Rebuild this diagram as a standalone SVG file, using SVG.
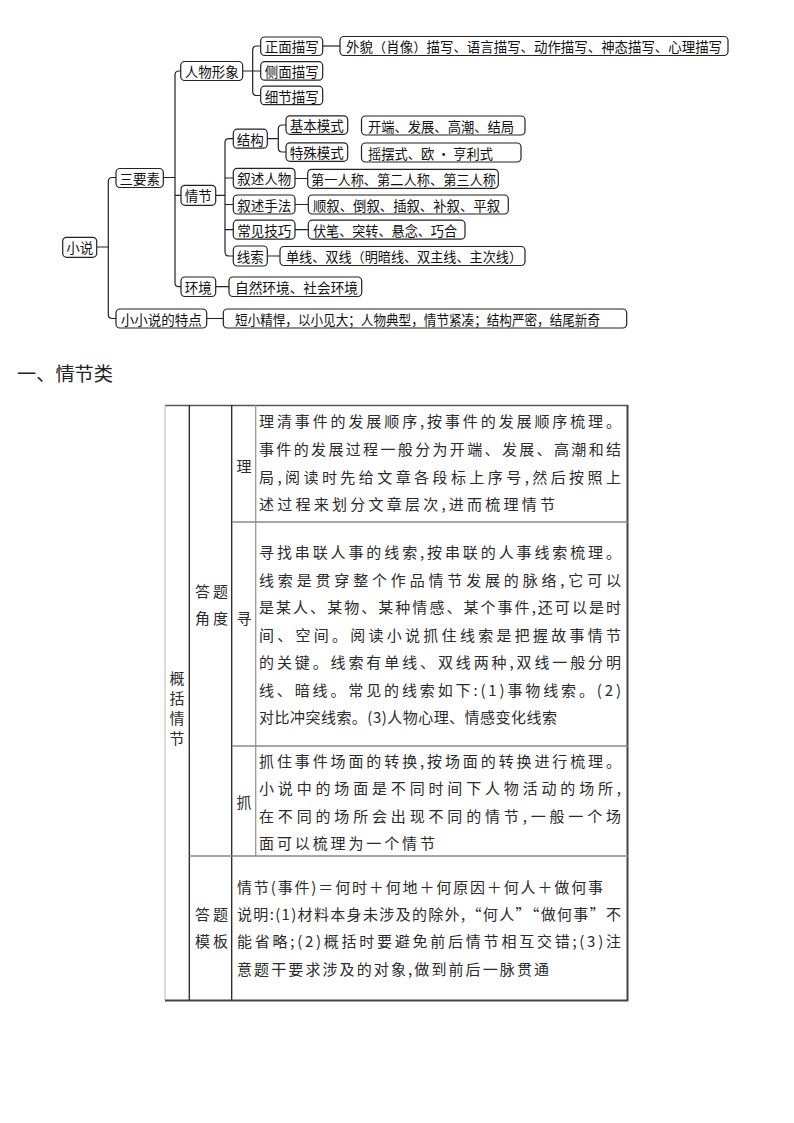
<svg xmlns="http://www.w3.org/2000/svg" width="794" height="1123" viewBox="0 0 794 1123">
<style>
.box{fill:#fff;stroke:#222;stroke-width:1.2}
.mt{font-family:"Noto Sans CJK SC",sans-serif;font-size:13.5px;fill:#111;dominant-baseline:central}
.c{text-anchor:middle}
.ln{fill:none;stroke:#222;stroke-width:1.2}
.tt{font-family:"Noto Sans CJK SC",sans-serif;font-size:15px;fill:#2b2b2b;dominant-baseline:central}
.h{font-family:"Noto Sans CJK SC",sans-serif;font-size:19px;fill:#222;dominant-baseline:central}
</style>
<rect width="794" height="1123" fill="#fff"/>
<g id="connectors">
<path class="ln" d="M96.7,247 H108.3 M116,177.5 H112.3 Q108.3,177.5 108.3,181.5 V314.5 Q108.3,318.5 112.3,318.5 H116"/>
<path class="ln" d="M163.3,177.5 H175 M180.7,71 H179 Q175,71 175,75 V282.7 Q175,286.7 179,286.7 H181 M175,195.3 H181"/>
<path class="ln" d="M242.7,71 H260.7 M260.7,46 H256.7 Q252.7,46 252.7,50 V91.5 Q252.7,95.5 256.7,95.5 H260.7"/>
<path class="ln" d="M322.7,46 H340"/>
<path class="ln" d="M215.7,195.3 H225 M233.3,138.7 H229 Q225,138.7 225,142.7 V252 Q225,256 229,256 H233.3 M225,178 H233.3 M225,204.5 H233.3 M225,229.7 H233.3"/>
<path class="ln" d="M267.3,138.7 H278.3 M286,125 H282.3 Q278.3,125 278.3,129 V148 Q278.3,152 282.3,152 H286"/>
<path class="ln" d="M295,178.5 H307.7 M295,204.5 H308.3 M295,229.7 H308.3 M267.3,256 H280 M215.7,286.7 H229 M206.7,318.5 H223.3"/>
</g>
<g id="n-xiaoshuo"><rect class="box" x="62.7" y="237.3" width="34" height="20" rx="4"/><text class="mt c" x="79.7" y="247">小说</text></g>
<g id="n-sanyaosu"><rect class="box" x="116" y="168.5" width="47.3" height="19" rx="4"/><text class="mt c" x="139.7" y="177.5">三要素</text></g>
<g id="n-xxstd"><rect class="box" x="116" y="309" width="90.7" height="19" rx="4"/><text class="mt c" x="161.3" y="318.5">小小说的特点</text></g>
<g id="n-renwu"><rect class="box" x="180.7" y="61.5" width="62" height="19" rx="4"/><text class="mt c" x="211.7" y="71">人物形象</text></g>
<g id="n-qingjie"><rect class="box" x="181" y="185.3" width="34.7" height="20" rx="4"/><text class="mt c" x="198.3" y="195.3">情节</text></g>
<g id="n-huanjing"><rect class="box" x="181" y="277" width="34.7" height="19.5" rx="4"/><text class="mt c" x="198.3" y="286.7">环境</text></g>
<g id="n-zhengmian"><rect class="box" x="260.7" y="37" width="62" height="18.5" rx="4"/><text class="mt c" x="291.7" y="46">正面描写</text></g>
<g id="n-cemian"><rect class="box" x="260.7" y="61.7" width="62" height="18.5" rx="4"/><text class="mt c" x="291.7" y="71">侧面描写</text></g>
<g id="n-xijie"><rect class="box" x="260.7" y="86.2" width="62" height="18.5" rx="4"/><text class="mt c" x="291.7" y="95.5">细节描写</text></g>
<g id="n-waimao"><rect class="box" x="340" y="36.5" width="388" height="19" rx="4"/><text class="mt" x="346" y="46" textLength="376" lengthAdjust="spacingAndGlyphs">外貌（肖像）描写、语言描写、动作描写、神态描写、心理描写</text></g>
<g id="n-jiegou"><rect class="box" x="233.3" y="129.2" width="34" height="19" rx="4"/><text class="mt c" x="250.3" y="138.7">结构</text></g>
<g id="n-jiben"><rect class="box" x="286" y="115.8" width="61.7" height="18.5" rx="4"/><text class="mt c" x="316.8" y="125">基本模式</text></g>
<g id="n-teshu"><rect class="box" x="286" y="142.8" width="61.7" height="18.5" rx="4"/><text class="mt c" x="316.8" y="152">特殊模式</text></g>
<g id="n-kaiduan"><rect class="box" x="361.5" y="116" width="163.5" height="19" rx="4"/><text class="mt" x="368" y="125.5" textLength="146" lengthAdjust="spacingAndGlyphs">开端、发展、高潮、结局</text></g>
<g id="n-yaobai"><rect class="box" x="361.5" y="143" width="159.5" height="19" rx="4"/><text class="mt" x="368" y="152.5" textLength="125" lengthAdjust="spacingAndGlyphs">摇摆式、欧 · 亨利式</text></g>
<g id="n-xsrw"><rect class="box" x="233.3" y="168.3" width="61.7" height="20" rx="4"/><text class="mt c" x="264.2" y="178.3">叙述人物</text></g>
<g id="n-diyi"><rect class="box" x="307.7" y="169.3" width="190.6" height="19" rx="4"/><text class="mt" x="311" y="178.8" textLength="185" lengthAdjust="spacingAndGlyphs">第一人称、第二人称、第三人称</text></g>
<g id="n-xssf"><rect class="box" x="233.3" y="195" width="61.7" height="19" rx="4"/><text class="mt c" x="264.2" y="204.5">叙述手法</text></g>
<g id="n-shunxu"><rect class="box" x="308.3" y="195" width="200" height="19" rx="4"/><text class="mt" x="313" y="204.5" textLength="187" lengthAdjust="spacingAndGlyphs">顺叙、倒叙、插叙、补叙、平叙</text></g>
<g id="n-cjjq"><rect class="box" x="233.3" y="220.2" width="61.7" height="19" rx="4"/><text class="mt c" x="264.2" y="229.7">常见技巧</text></g>
<g id="n-fubi"><rect class="box" x="308.3" y="220.2" width="156.7" height="19" rx="4"/><text class="mt" x="313" y="229.7" textLength="144" lengthAdjust="spacingAndGlyphs">伏笔、突转、悬念、巧合</text></g>
<g id="n-xiansuo"><rect class="box" x="233.3" y="246" width="34" height="20" rx="4"/><text class="mt c" x="250.3" y="256">线索</text></g>
<g id="n-danxian"><rect class="box" x="280" y="246.5" width="245" height="19" rx="4"/><text class="mt" x="286" y="256" textLength="236" lengthAdjust="spacingAndGlyphs">单线、双线（明暗线、双主线、主次线）</text></g>
<g id="n-ziran"><rect class="box" x="229" y="277" width="132.7" height="19.5" rx="4"/><text class="mt" x="235" y="286.7" textLength="123" lengthAdjust="spacingAndGlyphs">自然环境、社会环境</text></g>
<g id="n-duanxiao"><rect class="box" x="223.3" y="309" width="403.4" height="19" rx="4"/><text class="mt" x="235" y="318.5" textLength="365" lengthAdjust="spacingAndGlyphs">短小精悍，以小见大；人物典型，情节紧凑；结构严密，结尾新奇</text></g>
<text class="h" x="17" y="372" textLength="96" lengthAdjust="spacingAndGlyphs">一、情节类</text>
<g id="table">
<line x1="165" y1="405.5" x2="628" y2="405.5" stroke="#555" stroke-width="1.5"/>
<line x1="165" y1="405" x2="165" y2="1000" stroke="#bbb" stroke-width="1"/>
<line x1="189.3" y1="405" x2="189.3" y2="1000" stroke="#222" stroke-width="1.3"/>
<line x1="231.7" y1="405" x2="231.7" y2="1000" stroke="#222" stroke-width="1.3"/>
<line x1="255.7" y1="405" x2="255.7" y2="856" stroke="#999" stroke-width="1.3"/>
<line x1="627.5" y1="405" x2="627.5" y2="1001" stroke="#444" stroke-width="2"/>
<line x1="165" y1="1000.5" x2="628" y2="1000.5" stroke="#444" stroke-width="2"/>
<line x1="231.7" y1="522" x2="628" y2="522" stroke="#888" stroke-width="1.3"/>
<line x1="231.7" y1="746" x2="628" y2="746" stroke="#888" stroke-width="1.3"/>
<line x1="189.3" y1="856" x2="628" y2="856" stroke="#888" stroke-width="1.3"/>
<text class="tt c" x="177" y="677">概</text>
<text class="tt c" x="177" y="697">括</text>
<text class="tt c" x="177" y="717">情</text>
<text class="tt c" x="177" y="737">节</text>
<text class="tt" x="195" y="590" textLength="33" lengthAdjust="spacing">答题</text>
<text class="tt" x="195" y="617" textLength="33" lengthAdjust="spacing">角度</text>
<text class="tt" x="195" y="913" textLength="33" lengthAdjust="spacing">答题</text>
<text class="tt" x="195" y="940" textLength="33" lengthAdjust="spacing">模板</text>
<text class="tt c" x="244" y="465">理</text>
<text class="tt c" x="244" y="617">寻</text>
<text class="tt c" x="244" y="801">抓</text>
<text class="tt" x="259" y="420" textLength="362" lengthAdjust="spacing">理清事件的发展顺序,按事件的发展顺序梳理。</text>
<text class="tt" x="259" y="448" textLength="362" lengthAdjust="spacing">事件的发展过程一般分为开端、发展、高潮和结</text>
<text class="tt" x="259" y="476" textLength="362" lengthAdjust="spacing">局,阅读时先给文章各段标上序号,然后按照上</text>
<text class="tt" x="259" y="503" textLength="296" lengthAdjust="spacing">述过程来划分文章层次,进而梳理情节</text>
<text class="tt" x="259" y="551" textLength="362" lengthAdjust="spacing">寻找串联人事的线索,按串联的人事线索梳理。</text>
<text class="tt" x="259" y="579" textLength="362" lengthAdjust="spacing">线索是贯穿整个作品情节发展的脉络,它可以</text>
<text class="tt" x="259" y="606" textLength="362" lengthAdjust="spacing">是某人、某物、某种情感、某个事件,还可以是时</text>
<text class="tt" x="259" y="634" textLength="362" lengthAdjust="spacing">间、空间。阅读小说抓住线索是把握故事情节</text>
<text class="tt" x="259" y="661" textLength="362" lengthAdjust="spacing">的关键。线索有单线、双线两种,双线一般分明</text>
<text class="tt" x="259" y="689" textLength="362" lengthAdjust="spacing">线、暗线。常见的线索如下:(1)事物线索。(2)</text>
<text class="tt" x="259" y="716" textLength="298" lengthAdjust="spacing">对比冲突线索。(3)人物心理、情感变化线索</text>
<text class="tt" x="259" y="760" textLength="362" lengthAdjust="spacing">抓住事件场面的转换,按场面的转换进行梳理。</text>
<text class="tt" x="259" y="787" textLength="362" lengthAdjust="spacing">小说中的场面是不同时间下人物活动的场所,</text>
<text class="tt" x="259" y="815" textLength="362" lengthAdjust="spacing">在不同的场所会出现不同的情节,一般一个场</text>
<text class="tt" x="259" y="842" textLength="176" lengthAdjust="spacing">面可以梳理为一个情节</text>
<text class="tt" x="237" y="886" textLength="366" lengthAdjust="spacing">情节(事件)＝何时＋何地＋何原因＋何人＋做何事</text>
<text class="tt" x="237" y="913" textLength="384" lengthAdjust="spacing">说明:(1)材料本身未涉及的除外,“何人”“做何事”不</text>
<text class="tt" x="237" y="940" textLength="384" lengthAdjust="spacing">能省略;(2)概括时要避免前后情节相互交错;(3)注</text>
<text class="tt" x="237" y="968" textLength="312" lengthAdjust="spacing">意题干要求涉及的对象,做到前后一脉贯通</text>
</g>
</svg>
